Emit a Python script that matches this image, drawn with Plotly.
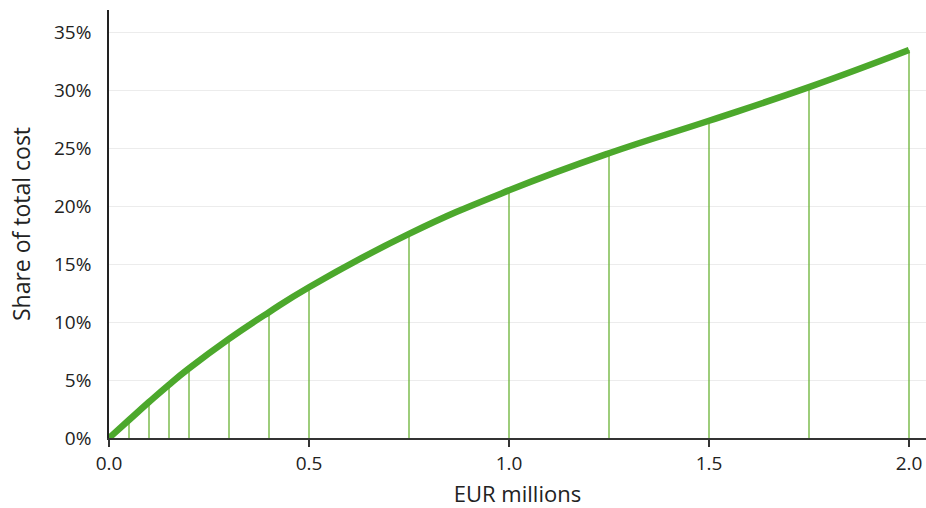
import plotly.graph_objects as go

# Data
eur_millions = [0.0, 0.05, 0.1, 0.15, 0.2, 0.3, 0.4, 0.5, 0.75, 1.0, 1.25, 1.5, 1.75, 2.0]
share_pct = [0.0, 1.55, 3.1, 4.6, 6.0, 8.55, 10.85, 13.0, 17.6, 21.35, 24.55, 27.35, 30.25, 33.45]

x_ticks = [0.0, 0.5, 1.0, 1.5, 2.0]
x_tick_labels = ["0.0", "0.5", "1.0", "1.5", "2.0"]
y_ticks = [0, 5, 10, 15, 20, 25, 30, 35]
y_tick_labels = [f"{v}%" for v in y_ticks]

# Drop lines (skip x = 0)
drop_x, drop_y = [], []
for xv, yv in zip(eur_millions[1:], share_pct[1:]):
    drop_x += [xv, xv, None]
    drop_y += [0, yv, None]

FONT = "Open Sans, Noto Sans, sans-serif"

fig = go.Figure()
fig.add_trace(go.Scatter(
    x=drop_x, y=drop_y, mode="lines",
    line=dict(color="#74b843", width=1.4),
    hoverinfo="skip", showlegend=False,
))
fig.add_trace(go.Scatter(
    x=eur_millions, y=share_pct, mode="lines",
    line=dict(color="#4ca82c", width=6.5, shape="spline", smoothing=1.3),
    showlegend=False,
))

fig.update_layout(
    width=926, height=508,
    margin=dict(l=109, r=0, t=10, b=70),
    paper_bgcolor="white", plot_bgcolor="white",
    font=dict(family=FONT, size=19, color="#222222"),
    xaxis=dict(
        range=[0, 2.0425],
        tickvals=x_ticks, ticktext=x_tick_labels,
        showgrid=False, zeroline=False,
        showline=True, linecolor="#333333", linewidth=1.5,
        ticks="outside", ticklen=7, tickcolor="#333333", tickwidth=1.5,
        tickfont=dict(size=19),
        title=dict(text="EUR millions", font=dict(size=22), standoff=12),
    ),
    yaxis=dict(
        range=[0, 36.9],
        tickvals=y_ticks, ticktext=y_tick_labels,
        showgrid=True, gridcolor="#ececec", gridwidth=1,
        zeroline=False,
        showline=True, linecolor="#222222", linewidth=1.5,
        ticks="", ticklabelstandoff=12,
        tickfont=dict(size=19),
        title=dict(text="Share of total cost", font=dict(size=23), standoff=17),
    ),
)

fig.write_html(
    "out.html",
    config={"displayModeBar": False},
    post_script="document.body.style.margin='0';document.body.style.padding='0';",
)
